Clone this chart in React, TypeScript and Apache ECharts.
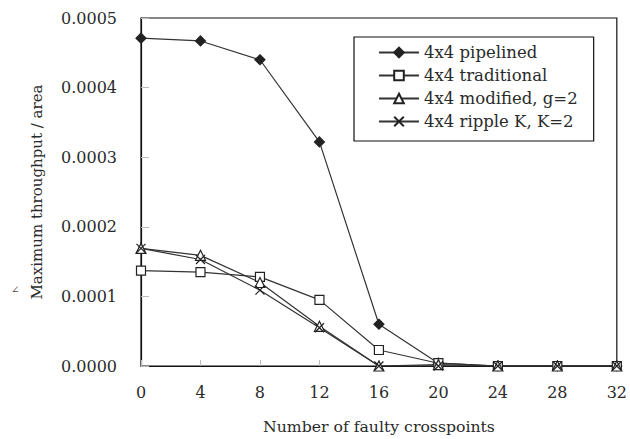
import React, { useEffect, useRef } from "react";
import * as echarts from "echarts";

const categories = ["0", "4", "8", "12", "16", "20", "24", "28", "32"];
const pipelined = [0.000471, 0.000467, 0.00044, 0.000322, 0.00006, 0.000004, 0, 0, 0];
const traditional = [0.000137, 0.000135, 0.000128, 0.000095, 0.000023, 0.000004, 0, 0, 0];
const modified = [0.000169, 0.000159, 0.00012, 0.000057, 0, 0.000002, 0, 0, 0];
const ripple = [0.000169, 0.000153, 0.000109, 0.000055, 0, 0, 0, 0, 0];
const seriesNames = ["4x4 pipelined", "4x4 traditional", "4x4 modified, g=2", "4x4 ripple K, K=2"];

const FONT = "'DejaVu Serif', 'Liberation Serif', serif";
const INK = "#2a2a2a";

export default function App() {
  const ref = useRef<HTMLDivElement>(null);
  useEffect(() => {
    if (!ref.current) return;
    const chart = echarts.init(ref.current, undefined, { renderer: "svg" });
    const mk = (name: string, data: number[], symbol: string, size: number, fill: string) => ({
      name,
      type: "line",
      data,
      symbol,
      symbolSize: size,
      showAllSymbol: true,
      lineStyle: { color: "#333", width: 1.2 },
      itemStyle: { color: fill, borderColor: "#222", borderWidth: 1.2 },
      emphasis: { disabled: true },
    });
    chart.setOption({
      animation: false,
      backgroundColor: "#fff",
      textStyle: { fontFamily: FONT, color: INK },
      grid: { left: 141, top: 18, right: 12, bottom: 72, show: true, borderColor: "#111", borderWidth: 1.2, backgroundColor: "transparent" },
      legend: {
        data: seriesNames,
        orient: "vertical",
        left: 354,
        top: 37,
        backgroundColor: "#fff",
        borderColor: "#111",
        borderWidth: 1.2,
        borderRadius: 0,
        padding: [7, 16, 11, 24],
        itemWidth: 40,
        itemHeight: 12,
        itemGap: 6,
        textStyle: { fontFamily: FONT, fontSize: 16.5, color: INK },
      },
      xAxis: {
        type: "category",
        data: categories,
        boundaryGap: false,
        axisLine: { lineStyle: { color: "#111", width: 1.2 } },
        axisTick: { inside: true, length: 6, lineStyle: { color: "#bbb" } },
        axisLabel: { fontFamily: FONT, fontSize: 16, color: INK, margin: 18 },
        name: "Number of faulty crosspoints",
        nameLocation: "middle",
        nameGap: 52,
        nameTextStyle: { fontFamily: FONT, fontSize: 15.7, color: INK },
      },
      yAxis: {
        type: "value",
        min: 0,
        max: 0.0005,
        interval: 0.0001,
        splitLine: { show: false },
        axisLine: { show: true, lineStyle: { color: "#111", width: 1.2 } },
        axisTick: { show: true, inside: true, length: 8, lineStyle: { color: "#bbb" } },
        axisLabel: { fontFamily: FONT, fontSize: 16, color: INK, margin: 24, formatter: (v: number) => v.toFixed(4) },
        name: "Maximum throughput / area",
        nameLocation: "middle",
        nameGap: 97,
        nameTextStyle: { fontFamily: FONT, fontSize: 15, color: INK },
      },
      graphic: [
        { type: "text", left: 11, top: 284, style: { text: "∠", fontSize: 10, fill: "#444", fontFamily: FONT } },
      ],
      series: [
        mk(seriesNames[0], pipelined, "diamond", 10, "#222"),
        mk(seriesNames[1], traditional, "rect", 9, "#fff"),
        mk(seriesNames[2], modified, "triangle", 10, "#fff"),
        mk(seriesNames[3], ripple, "path://M0,0L10,10M10,0L0,10", 9, "#222"),
      ],
    });
    return () => chart.dispose();
  }, []);
  return <div ref={ref} style={{ width: 630, height: 439, position: "absolute", left: 0, top: 0 }} />;
}
